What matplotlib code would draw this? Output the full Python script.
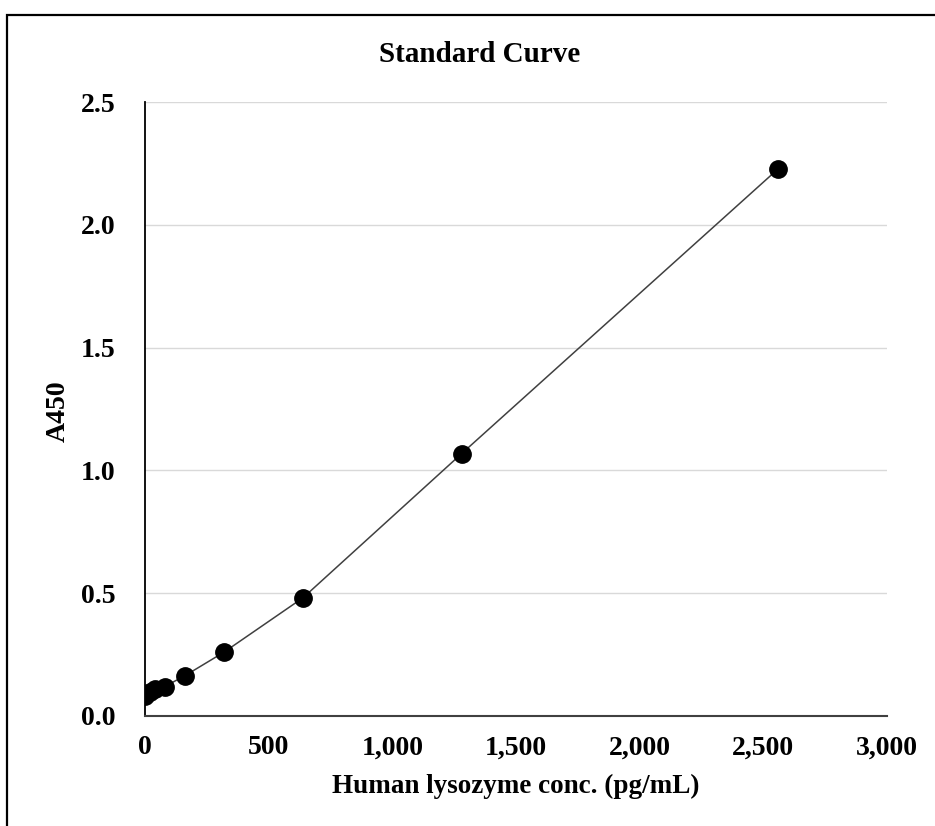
import matplotlib.pyplot as plt
from matplotlib.patches import Rectangle
from matplotlib.ticker import FuncFormatter

# standard curve data
conc = [0, 20, 40, 80, 160, 320, 640, 1280, 2560]
a450 = [0.083, 0.098, 0.108, 0.12, 0.163, 0.26, 0.482, 1.068, 2.228]

plt.rcParams['font.family'] = ['Liberation Serif', 'DejaVu Serif']

fig = plt.figure(figsize=(9.35, 8.26), dpi=100)
ax = fig.add_axes([0.155, 0.1332, 0.7937, 0.7433])

# outer border (cut off at right / bottom like the screenshot)
fig.patches.append(Rectangle((7 / 935, -0.1), 1.2, 1 - 15 / 826 + 0.1,
                             transform=fig.transFigure, fill=False,
                             edgecolor='black', linewidth=1.6))

ax.plot(conc, a450, color='#404040', linewidth=1.1, zorder=2)
ax.plot(conc, a450, 'o', color='black', markersize=12.5, zorder=3)

ax.set_xlim(0, 3000)
ax.set_ylim(0, 2.5)
ax.set_xticks([0, 500, 1000, 1500, 2000, 2500, 3000])
ax.set_yticks([0, 0.5, 1.0, 1.5, 2.0, 2.5])
ax.xaxis.set_major_formatter(FuncFormatter(lambda v, p: f"{v:,.0f}"))
ax.yaxis.set_major_formatter(FuncFormatter(lambda v, p: f"{v:.1f}"))
ax.tick_params(axis='x', length=0, labelsize=20, pad=14)
ax.tick_params(axis='y', length=0, labelsize=20, pad=21)
for lbl in ax.get_xticklabels() + ax.get_yticklabels():
    lbl.set_fontweight('bold')

ax.grid(axis='y', color='#d9d9d9', linewidth=1)
ax.set_axisbelow(True)
for s in ['top', 'right']:
    ax.spines[s].set_visible(False)
ax.spines['left'].set_linewidth(1.3)
ax.spines['bottom'].set_linewidth(1.5)
ax.spines['bottom'].set_color('#404040')

fig.text(480 / 935, 1 - 54 / 826, "Standard Curve", fontsize=21, fontweight='bold',
         ha='center', va='center')
ax.set_xlabel("Human lysozyme conc. (pg/mL)", fontsize=19.5, fontweight='bold', labelpad=10)
fig.text(58 / 935, 1 - 411 / 826, "A450", fontsize=20, fontweight='bold',
         rotation=90, ha='center', va='center')

fig.savefig("out.png", dpi=100)
